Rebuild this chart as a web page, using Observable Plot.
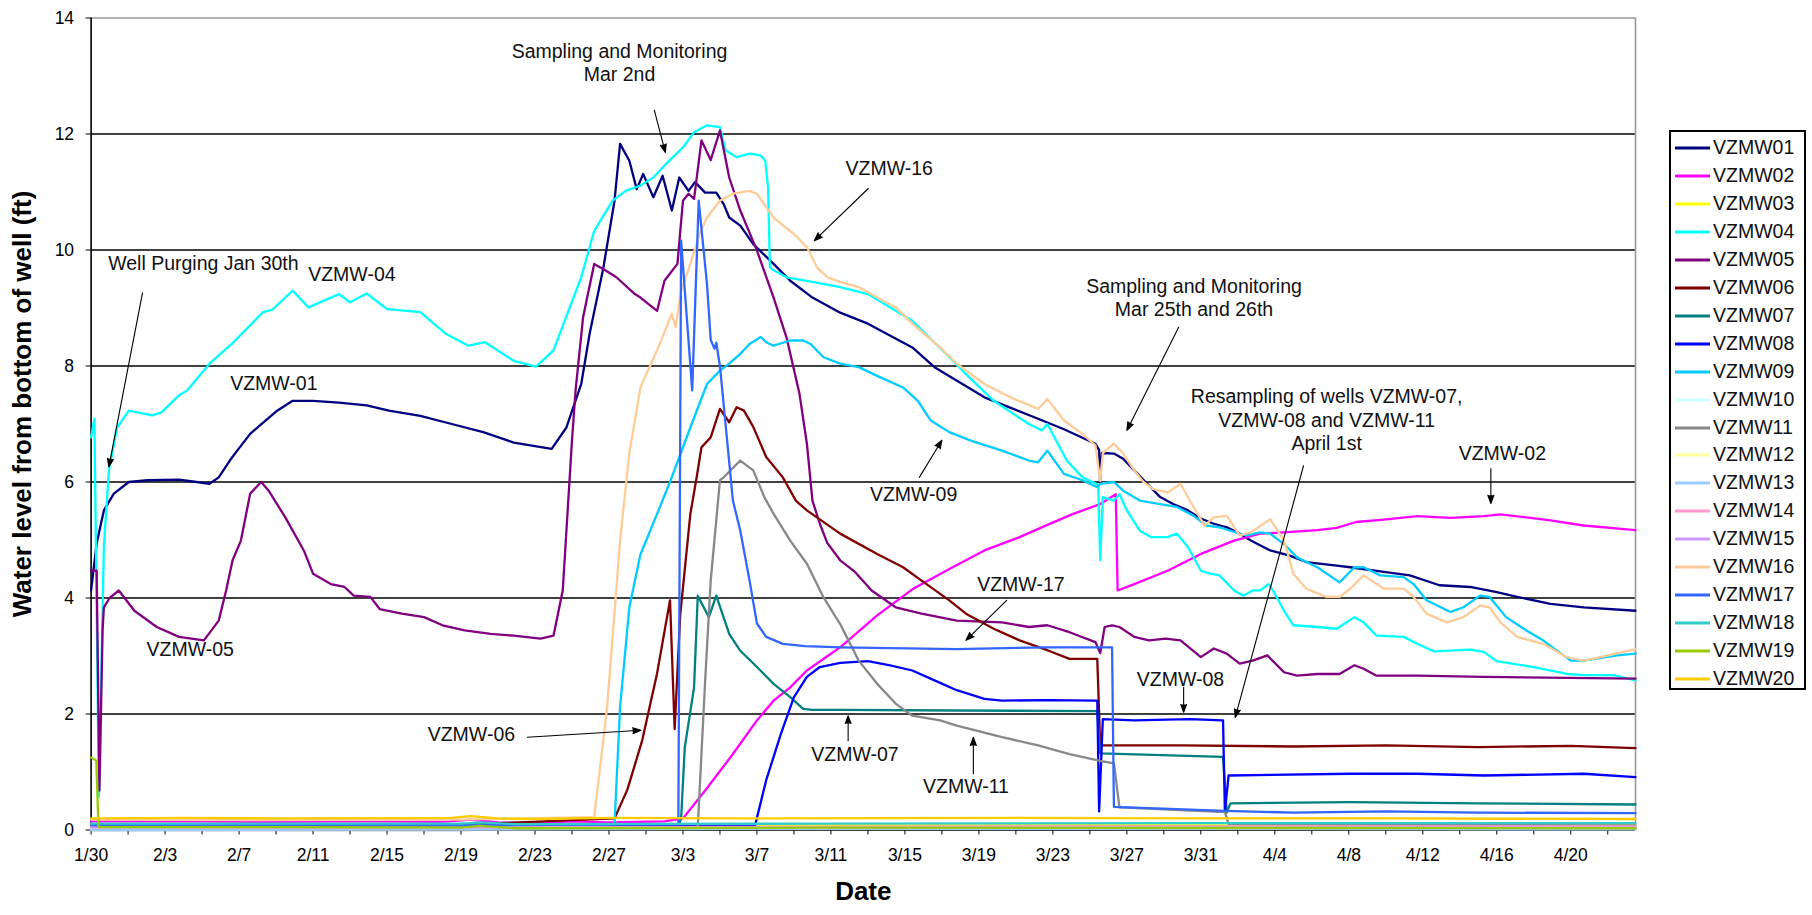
<!DOCTYPE html>
<html><head><meta charset="utf-8">
<script src="https://cdn.jsdelivr.net/npm/d3@7"></script>
<script src="https://cdn.jsdelivr.net/npm/@observablehq/plot@0.6"></script>
<style>
body{margin:0;background:#fff;font-family:"Liberation Sans",Arial,Helvetica,sans-serif;}
#wrap{position:relative;width:1812px;height:915px;overflow:hidden;background:#fff}
#chart{position:absolute;left:0;top:0}
#legend{position:absolute;left:1669px;top:130px;width:137px;height:560px;border:2px solid #000;box-sizing:border-box;background:#fff}
.item{position:absolute;left:0;width:130px;height:24px}
.item svg{position:absolute;left:2px;top:10px}
.item span{position:absolute;left:42px;top:0;font-size:19.5px;line-height:24px;color:#111}
</style></head><body>
<div id="wrap"><div id="chart"></div><div id="legend"></div></div>
<script>
// ---- categories ----
const startDate = Date.UTC(2006, 0, 30);
const endDay = 83.5;
const seriesNames = ["VZMW01","VZMW02","VZMW03","VZMW04","VZMW05","VZMW06","VZMW07","VZMW08","VZMW09","VZMW10",
  "VZMW11","VZMW12","VZMW13","VZMW14","VZMW15","VZMW16","VZMW17","VZMW18","VZMW19","VZMW20"];
const seriesColors = ["#000080","#FF00FF","#FFFF00","#00FFFF","#800080","#800000","#008080","#0000FF","#00CCFF","#CCFFFF",
  "#888888","#FFFF99","#99CCFF","#FF99CC","#CC99FF","#FFCC99","#3366FF","#33CCCC","#99CC00","#FFCC00"];
const xTickLabels = ["1/30","2/3","2/7","2/11","2/15","2/19","2/23","2/27","3/3","3/7","3/11","3/15","3/19","3/23","3/27","3/31","4/4","4/8","4/12","4/16","4/20"];
const yTicks = [0,2,4,6,8,10,12,14];

// ---- series values: [days since Jan 30, water level ft] ----
const vzmw01 = [[0,4.13],[0.3,4.94],[0.69,5.51],[1.23,5.8],[2.04,6.0],[3.06,6.03],[4.75,6.04],[5.7,6.0],[6.4,5.97],[6.9,6.08],[7.5,6.37],[7.9,6.54],[8.6,6.83],[10.06,7.23],[10.9,7.4],[12.0,7.4],[13.4,7.37],[14.9,7.32],[16.1,7.23],[17.8,7.14],[19.5,7.0],[21.2,6.86],[22.85,6.68],[24.9,6.57],[25.7,6.94],[26.5,7.69],[26.95,8.55],[27.7,9.7],[28.3,10.85],[28.6,11.83],[29.1,11.54],[29.5,11.05],[29.85,11.31],[30.0,11.2],[30.4,10.91],[30.9,11.28],[31.4,10.68],[31.8,11.25],[32.3,11.02],[32.65,11.17],[33.2,10.99],[33.8,10.99],[34.2,10.79],[34.5,10.56],[35.1,10.42],[35.8,10.1],[36.9,9.76],[37.8,9.47],[39.0,9.18],[40.5,8.92],[42.0,8.73],[44.4,8.32],[45.6,7.98],[48.3,7.46],[51.2,7.09],[52.6,6.91],[54.3,6.66],[54.5,6.55],[54.55,6.0],[54.65,6.5],[55.3,6.49],[55.8,6.4],[56.4,6.2],[57.1,5.97],[57.8,5.74],[58.5,5.62],[59.3,5.51],[60.0,5.37],[60.7,5.28],[61.4,5.22],[62.1,5.11],[62.7,4.99],[63.75,4.82],[64.8,4.73],[65.7,4.62],[67.35,4.56],[68.07,4.53],[69.9,4.45],[71.3,4.39],[72.9,4.22],[74.56,4.19],[76.0,4.1],[77.1,4.02],[78.9,3.9],[80.7,3.84],[83.5,3.78]];
const vzmw02 = [[0,0.15],[5,0.15],[10,0.14],[15,0.15],[19,0.14],[20.5,0.18],[22,0.13],[24,0.12],[26,0.15],[28,0.13],[31,0.15],[32.0,0.2],[33.2,0.68],[34.7,1.31],[36.0,1.89],[36.9,2.23],[37.8,2.46],[38.7,2.75],[40.5,3.15],[42.5,3.7],[44.4,4.15],[46.4,4.5],[48.3,4.82],[50.2,5.05],[51.7,5.26],[53.1,5.45],[54.56,5.62],[55.4,5.79],[55.5,4.13],[56.4,4.24],[58.2,4.47],[60.0,4.76],[61.8,4.99],[63.2,5.11],[64.5,5.13],[66.3,5.17],[67.35,5.21],[68.4,5.31],[69.9,5.35],[71.7,5.41],[73.5,5.38],[75.3,5.41],[76.2,5.44],[77.6,5.39],[78.9,5.34],[80.7,5.25],[83.5,5.17]];
const vzmw03 = [[0,0.09],[15,0.09],[20,0.1],[22,0.08],[35,0.09],[50,0.09],[65,0.08],[83.5,0.08]];
const vzmw04 = [[0,6.77],[0.18,7.09],[0.42,0.57],[0.69,4.88],[0.96,6.2],[1.41,6.94],[2.04,7.23],[3.3,7.15],[3.8,7.2],[4.74,7.49],[5.2,7.58],[6.4,8.04],[7.6,8.38],[9.3,8.93],[9.8,8.97],[10.9,9.3],[11.75,9.01],[13.4,9.24],[14.0,9.1],[14.9,9.25],[16.0,8.98],[17.8,8.93],[19.2,8.55],[20.4,8.35],[21.3,8.41],[22.85,8.09],[24.06,7.99],[25.0,8.27],[26.5,9.53],[27.2,10.33],[28.2,10.85],[28.9,11.02],[29.7,11.11],[30.4,11.25],[31.1,11.49],[32.0,11.77],[32.6,12.03],[33.3,12.15],[34.0,12.12],[34.3,11.72],[34.9,11.6],[35.6,11.66],[36.2,11.63],[36.45,11.54],[36.6,11.08],[36.7,9.7],[36.9,9.65],[37.6,9.53],[39.0,9.45],[40.5,9.36],[42.0,9.24],[44.4,8.78],[46.6,8.09],[47.3,7.86],[48.8,7.4],[50.7,7.0],[51.4,6.89],[51.7,7.0],[52.75,6.37],[53.6,6.08],[54.45,5.95],[54.56,4.65],[54.7,5.74],[55.3,5.68],[55.6,5.79],[56.0,5.51],[56.7,5.16],[57.3,5.05],[58.2,5.05],[58.7,5.11],[59.3,4.88],[60.0,4.47],[60.5,4.42],[61.0,4.39],[61.8,4.13],[62.3,4.04],[62.8,4.13],[63.2,4.13],[63.66,4.24],[63.9,4.13],[64.5,3.78],[65.0,3.53],[66.3,3.5],[67.35,3.47],[68.3,3.67],[68.8,3.58],[69.5,3.35],[70.96,3.33],[71.7,3.21],[72.6,3.08],[74.56,3.11],[75.3,3.07],[76.0,2.91],[78.0,2.81],[79.8,2.69],[80.7,2.67],[82.3,2.67],[83.5,2.58]];
const vzmw05 = [[0,4.47],[0.3,4.47],[0.45,0.68],[0.62,3.44],[0.69,3.84],[1.0,4.0],[1.5,4.13],[2.34,3.78],[3.55,3.5],[4.75,3.33],[6.1,3.27],[6.9,3.61],[7.3,4.13],[7.65,4.65],[8.1,4.99],[8.6,5.8],[9.2,6.0],[9.6,5.85],[10.5,5.39],[11.5,4.82],[12.0,4.42],[12.96,4.24],[13.7,4.19],[14.2,4.04],[15.1,4.02],[15.6,3.81],[16.8,3.73],[18.0,3.67],[19.0,3.53],[20.2,3.44],[21.6,3.38],[22.85,3.35],[24.3,3.3],[25.0,3.35],[25.5,4.13],[26.0,6.72],[26.2,7.6],[26.6,8.84],[27.2,9.76],[27.8,9.65],[28.4,9.53],[29.4,9.24],[29.7,9.18],[30.6,8.95],[31.0,9.47],[31.7,9.76],[32.0,10.85],[32.3,10.97],[32.6,10.88],[33.0,11.89],[33.5,11.55],[34.0,12.06],[34.5,11.25],[35.1,10.68],[36.0,9.99],[36.9,9.18],[37.6,8.49],[38.3,7.52],[38.7,6.66],[39.0,5.68],[39.4,5.28],[39.8,4.95],[40.5,4.65],[41.3,4.45],[42.2,4.13],[43.5,3.84],[44.9,3.73],[46.8,3.61],[49.25,3.58],[50.7,3.5],[51.7,3.53],[52.9,3.41],[54.3,3.24],[54.56,3.05],[54.8,3.5],[55.2,3.53],[55.6,3.5],[56.4,3.33],[57.2,3.27],[58.1,3.3],[58.9,3.27],[60.0,2.98],[60.7,3.13],[61.4,3.04],[62.1,2.87],[62.8,2.92],[63.6,3.01],[64.5,2.72],[65.2,2.66],[66.3,2.69],[67.5,2.69],[68.3,2.84],[68.8,2.78],[69.5,2.66],[71.7,2.66],[75.3,2.64],[83.5,2.61]];
const vzmw06 = [[0,0.1],[10,0.1],[20,0.09],[28.3,0.2],[29.0,0.7],[29.8,1.55],[30.6,2.7],[31.3,3.96],[31.55,1.74],[31.85,3.7],[32.4,5.45],[32.75,6.1],[33.0,6.6],[33.5,6.77],[34.0,7.26],[34.5,7.03],[34.9,7.29],[35.3,7.23],[35.8,6.95],[36.5,6.43],[37.4,6.08],[38.1,5.68],[38.7,5.51],[40.5,5.11],[42.5,4.76],[43.9,4.53],[44.9,4.3],[46.4,3.96],[47.3,3.73],[48.8,3.47],[50.2,3.27],[51.7,3.1],[52.9,2.95],[54.4,2.95],[54.56,1.46],[58.9,1.46],[65,1.44],[70,1.46],[75,1.43],[80,1.45],[83.5,1.41]];
const vzmw07 = [[0,0.1],[15,0.1],[31.8,0.1],[31.9,0.2],[32.1,1.43],[32.6,2.46],[32.8,4.04],[33.4,3.67],[33.8,4.04],[34.5,3.38],[35.1,3.09],[36.0,2.81],[36.9,2.52],[37.8,2.29],[38.5,2.09],[39.0,2.07],[40.5,2.07],[46.8,2.06],[54.4,2.05],[54.56,1.32],[61.2,1.26],[61.4,0.3],[61.6,0.46],[68.1,0.48],[75,0.46],[83.5,0.44]];
const vzmw08 = [[0,0.07],[20,0.07],[35.9,0.08],[36.5,0.86],[37.3,1.66],[38.0,2.29],[38.7,2.64],[39.4,2.81],[40.5,2.88],[42.0,2.91],[43.2,2.84],[44.4,2.75],[45.6,2.58],[46.8,2.41],[48.3,2.26],[49.25,2.23],[51.7,2.24],[54.4,2.23],[54.5,0.32],[54.7,1.91],[56.4,1.89],[59.4,1.91],[61.2,1.89],[61.3,0.31],[61.5,0.94],[68.1,0.97],[71.7,0.97],[75.3,0.94],[80.7,0.97],[83.5,0.91]];
const vzmw09 = [[0,0.06],[10,0.06],[20,0.05],[28.3,0.1],[28.6,2.12],[29.1,3.84],[29.7,4.75],[30.6,5.45],[31.3,6.0],[32.4,6.94],[33.3,7.69],[34.0,7.92],[34.5,8.04],[35.1,8.21],[35.6,8.38],[36.2,8.5],[36.5,8.41],[36.9,8.35],[37.8,8.44],[38.5,8.44],[38.9,8.38],[39.6,8.15],[40.5,8.04],[41.5,7.98],[42.5,7.83],[43.9,7.63],[44.7,7.4],[45.4,7.06],[46.4,6.86],[47.6,6.71],[49.25,6.54],[50.7,6.37],[51.2,6.34],[51.7,6.54],[52.6,6.14],[53.6,6.03],[54.4,5.91],[54.56,5.97],[55.3,6.0],[55.8,5.85],[56.7,5.68],[57.8,5.62],[58.7,5.57],[59.6,5.42],[60.3,5.25],[61.0,5.22],[62.1,5.11],[62.5,5.08],[63.2,5.13],[63.75,5.11],[64.5,4.93],[65.2,4.7],[66.3,4.53],[67.5,4.27],[68.3,4.53],[68.8,4.53],[69.7,4.39],[70.96,4.36],[71.5,4.24],[72.2,3.96],[73.5,3.76],[74.2,3.84],[75.1,4.04],[75.6,4.02],[76.5,3.67],[77.6,3.44],[78.5,3.27],[80.0,2.92],[80.7,2.92],[82.5,3.01],[83.5,3.04]];
const vzmw10 = [[0,0.02],[30,0.02],[60,0.02],[83.5,0.02]];
const vzmw11 = [[0,0.0],[20,0.0],[32.8,0.05],[33.2,2.58],[33.5,4.3],[34.0,6.03],[34.2,6.08],[35.1,6.37],[35.8,6.2],[36.4,5.74],[36.9,5.45],[37.8,4.99],[38.7,4.59],[39.6,4.01],[40.5,3.55],[41.5,2.92],[42.5,2.52],[43.5,2.18],[44.4,1.97],[45.9,1.89],[46.8,1.8],[49.25,1.6],[51.2,1.46],[52.9,1.31],[54.56,1.19],[55.3,1.15],[55.6,0.39],[61.3,0.31],[61.5,0.1],[83.5,0.08]];
const vzmw12 = [[0,0.03],[40,0.03],[83.5,0.03]];
const vzmw13 = [[0,0.0],[20,0.01],[40,0.02],[60,0.02],[83.5,0.01]];
const vzmw14 = [[0,0.06],[20,0.06],[21,0.08],[23,0.05],[50,0.06],[83.5,0.06]];
const vzmw15 = [[0,0.04],[40,0.04],[83.5,0.04]];
const vzmw16 = [[0,0.18],[10,0.17],[20,0.18],[27.2,0.22],[27.9,2.12],[28.6,4.99],[29.1,6.5],[29.7,7.63],[30.6,8.27],[31.4,8.9],[31.6,8.67],[31.9,9.3],[32.4,9.76],[32.9,10.28],[33.3,10.56],[34.0,10.85],[34.7,10.97],[35.6,11.02],[36.0,10.97],[36.5,10.74],[36.9,10.56],[37.98,10.28],[38.7,10.05],[39.25,9.7],[39.8,9.53],[40.5,9.45],[41.5,9.36],[42.5,9.18],[43.5,9.01],[44.4,8.73],[45.9,8.32],[46.8,8.04],[48.3,7.69],[49.7,7.46],[51.2,7.26],[51.7,7.43],[52.6,7.06],[53.6,6.83],[54.3,6.63],[54.56,6.02],[54.7,6.5],[55.3,6.66],[55.8,6.49],[56.4,6.2],[56.9,6.0],[57.4,5.88],[58.2,5.82],[58.9,5.97],[59.4,5.68],[60.2,5.25],[60.7,5.39],[61.4,5.42],[62.1,5.08],[62.7,5.13],[63.75,5.36],[64.5,4.99],[65.0,4.42],[65.7,4.16],[66.8,4.02],[67.5,4.02],[68.07,4.16],[68.8,4.39],[69.9,4.16],[70.96,4.16],[71.5,4.02],[72.2,3.73],[73.3,3.58],[74.2,3.67],[75.1,3.87],[75.6,3.84],[76.2,3.58],[77.1,3.33],[78.5,3.21],[79.8,2.98],[80.7,2.92],[81.6,2.98],[83.5,3.12]];
const vzmw17 = [[0,0.08],[20,0.08],[31.75,0.1],[31.9,10.16],[32.5,7.58],[32.85,10.85],[33.3,9.41],[33.5,8.45],[33.7,8.3],[33.8,8.4],[34.0,8.0],[34.7,5.68],[35.1,5.16],[35.6,4.3],[36.0,3.56],[36.5,3.33],[37.4,3.21],[38.6,3.17],[40.5,3.15],[46.8,3.12],[51.7,3.15],[55.2,3.15],[55.3,0.4],[61.3,0.33],[65,0.3],[70,0.32],[75,0.3],[83.5,0.29]];
const vzmw18 = [[0,0.11],[20,0.11],[21,0.13],[23,0.1],[40,0.11],[60,0.12],[83.5,0.12]];
const vzmw19 = [[0,1.25],[0.28,1.2],[0.4,0.05],[10,0.05],[20,0.04],[21,0.07],[23,0.03],[40,0.04],[83.5,0.03]];
const vzmw20 = [[0,0.2],[5,0.21],[10,0.2],[19.5,0.21],[20.5,0.24],[22,0.2],[24,0.19],[28,0.21],[35,0.2],[50,0.21],[60,0.2],[70,0.2],[83.5,0.19]];
const seriesValues = [vzmw01,vzmw02,vzmw03,vzmw04,vzmw05,vzmw06,vzmw07,vzmw08,vzmw09,vzmw10,
  vzmw11,vzmw12,vzmw13,vzmw14,vzmw15,vzmw16,vzmw17,vzmw18,vzmw19,vzmw20];

// ---- annotations (data coordinates) ----
const noteTexts = ["Well Purging Jan 30th","VZMW-04","VZMW-01","VZMW-05","VZMW-06","Sampling and Monitoring\nMar 2nd","VZMW-16","VZMW-09","VZMW-17","VZMW-07","VZMW-11","Sampling and Monitoring\nMar 25th and 26th","Resampling of wells VZMW-07,\nVZMW-08 and VZMW-11\nApril 1st","VZMW-08","VZMW-02"];
const noteDays = [6.07,14.1,9.88,5.36,20.56,28.57,43.15,44.47,50.27,41.3,47.3,59.63,66.8,58.9,76.3];
const noteValues = [9.79,9.59,7.72,3.13,1.66,13.24,11.42,5.8,4.25,1.32,0.77,9.19,7.08,2.61,6.51];
const arrowFrom = [[2.78,9.26],[30.45,12.41],[42.02,11.06],[58.8,8.67],[65.55,6.28],[75.68,6.23],[59.07,2.46],[44.78,6.08],[49.5,3.96],[40.93,1.54],[47.7,0.97],[23.58,1.6]];
const arrowTo = [[0.96,6.26],[31.05,11.68],[39.1,10.16],[56.0,6.89],[61.86,1.94],[75.68,5.63],[59.07,2.03],[46.0,6.72],[47.3,3.27],[40.93,1.97],[47.7,1.6],[29.73,1.72]];

// ---- build tables ----
const toDate = d => new Date(startDate + d * 864e5);
const parseLabel = s => { const [m, d] = s.split("/").map(Number); return new Date(Date.UTC(2006, m - 1, d)); };
const rows = [];
seriesNames.forEach((name, i) => seriesValues[i].forEach(([d, v]) => rows.push({series: name, date: toDate(d), value: v})));
const notes = noteTexts.map((t, i) => ({text: t, date: toDate(noteDays[i]), value: noteValues[i]}));
const arrows = arrowFrom.map((f, i) => ({x1: toDate(f[0]), y1: f[1], x2: toDate(arrowTo[i][0]), y2: arrowTo[i][1]}));
const labelMap = new Map(xTickLabels.map(s => [+parseLabel(s), s]));
const allTicks = d3.utcDay.range(toDate(0), toDate(endDay), 2);

const font = '"Liberation Sans", Arial, sans-serif';
const chart = Plot.plot({
  width: 1812, height: 915,
  marginLeft: 90.6, marginRight: 177, marginTop: 17.5, marginBottom: 85.5,
  style: {fontFamily: font, background: "#fff", color: "#000"},
  x: {type: "utc", domain: [toDate(0), toDate(endDay)]},
  y: {domain: [0, 14]},
  color: {domain: seriesNames, range: seriesColors},
  marks: [
    Plot.ruleY(yTicks.filter(t => t > 0 && t < 14), {stroke: "#000", strokeWidth: 1.6}),
    Plot.ruleY([14], {stroke: "#999", strokeWidth: 1.6}),
    Plot.ruleX([toDate(endDay)], {stroke: "#999", strokeWidth: 1.6}),
    Plot.ruleX([toDate(0)], {stroke: "#000", strokeWidth: 1.6}),
    Plot.ruleY([0], {stroke: "#000", strokeWidth: 1.6}),
    Plot.axisY({ticks: yTicks, tickSize: 5, tickPadding: 12, fontSize: 17.5, label: null, tickFormat: d => String(d)}),
    Plot.axisX({ticks: allTicks, tickSize: 5, tickPadding: 14, fontSize: 17.5, label: null,
      tickFormat: d => labelMap.get(+d) ?? ""}),
    Plot.line(rows, {x: "date", y: "value", z: "series", stroke: "series", strokeWidth: 2.3, strokeLinejoin: "round"}),
    Plot.arrow(arrows, {x1: "x1", y1: "y1", x2: "x2", y2: "y2", stroke: "#000", fill: "#000", strokeWidth: 1.1, headLength: 12, headAngle: 40}),
    Plot.text(notes, {x: "date", y: "value", text: "text", fontSize: 19.5, lineHeight: 1.2, textAnchor: "middle", lineAnchor: "middle", fill: "#111"}),
    Plot.text(["Water level from bottom of well (ft)"], {frameAnchor: "left", textAnchor: "middle", lineAnchor: "middle", rotate: -90, dx: -68, dy: -20, fontSize: 26, fontWeight: "bold", fill: "#000"}),
    Plot.text(["Date"], {frameAnchor: "bottom", textAnchor: "middle", lineAnchor: "middle", dy: 62, fontSize: 26, fontWeight: "bold", fill: "#000"})
  ]
});
document.getElementById("chart").appendChild(chart);

// ---- legend ----
const legend = document.getElementById("legend");
seriesNames.forEach((name, i) => {
  const item = document.createElement("div");
  item.className = "item";
  item.style.top = (3 + i * 27.95) + "px";
  item.innerHTML = `<svg width="38" height="6"><line x1="2" x2="37" y1="3" y2="3" stroke="${seriesColors[i]}" stroke-width="3"/></svg><span>${name}</span>`;
  legend.appendChild(item);
});
</script>
</body></html>
